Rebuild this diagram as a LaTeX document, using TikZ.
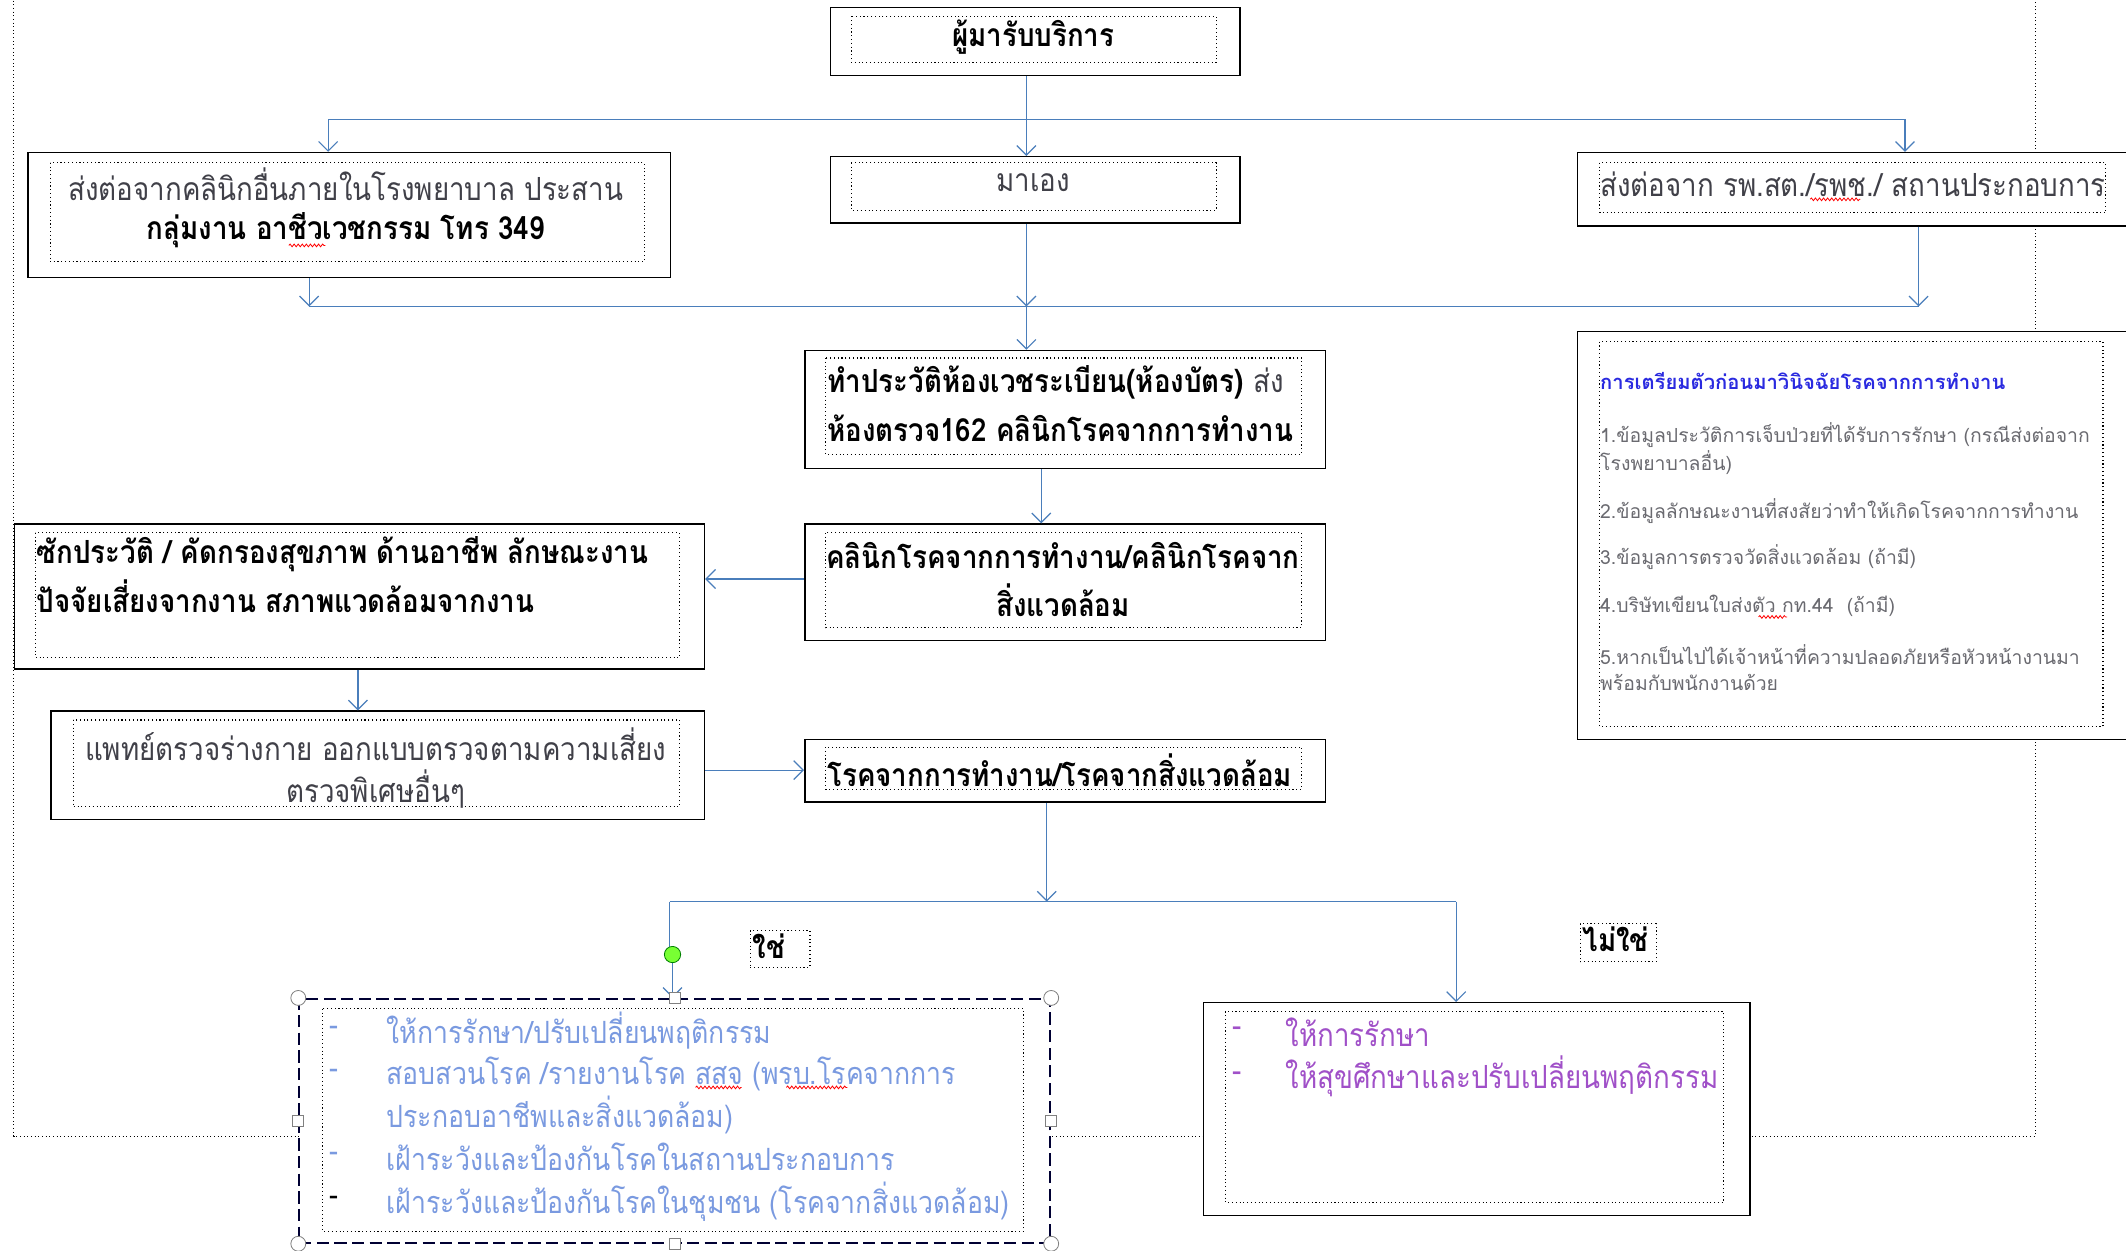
\documentclass[tikz,border=0pt]{standalone}
\usepackage{fontspec}
\newfontfamily\thai[Script=Thai,FakeStretch=0.87]{Loma}
\newfontfamily\thais[Script=Thai]{Loma}
\usetikzlibrary{arrows.meta,calc,decorations.pathmorphing}
\definecolor{connc}{HTML}{4A7EBB}
\definecolor{txtg}{HTML}{404048}
\definecolor{infog}{HTML}{6A6A70}
\definecolor{titleb}{HTML}{2A2AE0}
\definecolor{yesb}{HTML}{7A9AE0}
\definecolor{nop}{HTML}{A050C8}
\tikzset{
  obox/.style={draw=black, line width=1.1pt, fill=white, inner sep=0pt, anchor=north west},
  ibox/.style={draw=black, dotted, line width=0.8pt},
  conn/.style={draw=connc, line width=0.9pt},
  arr/.style={conn, -{Straight Barb[length=7pt,width=14pt,line width=0.9pt]}},
  maintxt/.style={inner sep=0pt, font=\thai\fontsize{23.5}{30}\selectfont},
  yestxt/.style={inner sep=0pt, anchor=west, text=yesb, font=\thai\fontsize{22.6}{30}\selectfont},
  smalltxt/.style={inner sep=0pt, anchor=west, font=\thais\fontsize{14.3}{18}\selectfont, text=infog},
  handlec/.style={draw=gray, fill=white, line width=0.6pt, circle, minimum size=11pt, inner sep=0pt},
  handles/.style={draw=gray, fill=white, line width=0.6pt, rectangle, minimum size=8pt, inner sep=0pt},
  squig/.style={draw=red, line width=0.6pt, decorate, decoration={snake, amplitude=1pt, segment length=3pt}},
}
\begin{document}
\begin{tikzpicture}[x=1pt,y=-1pt]
\useasboundingbox (0,0) rectangle (1568,922);
\clip (0,0) rectangle (1568,922);
% outer dotted frame
\draw[dotted, line width=0.7pt] (10,-5) -- (10,838) -- (1501,838) -- (1501,-5);

% boxes
\node[obox, minimum width=302pt, minimum height=50pt] (A) at (612,5) {};
\draw[ibox] (628,12) rectangle (897,46);
\node[maintxt] (tA) at (762,27) {\bfseries ผู้มารับบริการ};

\node[obox, minimum width=474pt, minimum height=92pt] (B) at (20,112) {};
\draw[ibox] (37,120) rectangle (475,193);
\node[maintxt, text=txtg] (tB1) at (255,136) {ส่งต่อจากคลินิกอื่นภายในโรงพยาบาล ประสาน};
\node[maintxt] (tB2) at (255,170) {\bfseries กลุ่มงาน อาชีวเวชกรรม โทร 349};

\node[obox, minimum width=302pt, minimum height=49pt] (C) at (612,115) {};
\draw[ibox] (628,120) rectangle (897,155);
\node[maintxt, text=txtg] (tC) at (762,135) {มาเอง};

\node[obox, minimum width=420pt, minimum height=54pt] (D) at (1163,112) {};
\draw[ibox] (1180,120) rectangle (1553,157);
\node[maintxt, text=txtg, anchor=west] (tD) at (1180,136) {ส่งต่อจาก รพ.สต./รพช./ สถานประกอบการ};

\node[obox, minimum width=384pt, minimum height=87pt] (E) at (593,258) {};
\draw[ibox] (609,264) rectangle (960,335);
\node[maintxt, anchor=west] (tE1) at (610,282) {\bfseries ทำประวัติห้องเวชระเบียน(ห้องบัตร) \mdseries\color{txtg}ส่ง};
\node[maintxt, anchor=west] (tE2) at (610,316) {\bfseries ห้องตรวจ162 คลินิกโรคจากการทำงาน};

\node[obox, minimum width=420pt, minimum height=301pt] (F) at (1163,244) {};
\draw[ibox] (1180,252) rectangle (1551,536);
\node[smalltxt, text=titleb, font=\thais\fontsize{14.9}{18}\selectfont] (tF0) at (1180,281) {\bfseries การเตรียมตัวก่อนมาวินิจฉัยโรคจากการทำงาน};
\node[smalltxt] (tF1) at (1180,321) {1.ข้อมูลประวัติการเจ็บป่วยที่ได้รับการรักษา (กรณีส่งต่อจาก};
\node[smalltxt] (tF1b) at (1180,341) {โรงพยาบาลอื่น)};
\node[smalltxt] (tF2) at (1180,377) {2.ข้อมูลลักษณะงานที่สงสัยว่าทำให้เกิดโรคจากการทำงาน};
\node[smalltxt] (tF3) at (1180,411) {3.ข้อมูลการตรวจวัดสิ่งแวดล้อม (ถ้ามี)};
\node[smalltxt] (tF4) at (1180,447) {4.บริษัทเขียนใบส่งตัว กท.44~~(ถ้ามี)};
\node[smalltxt] (tF5) at (1180,483) {5.หากเป็นไปได้เจ้าหน้าที่ความปลอดภัยหรือหัวหน้างานมา};
\node[smalltxt] (tF5b) at (1180,503) {พร้อมกับพนักงานด้วย};

\node[obox, minimum width=384pt, minimum height=86pt] (G) at (593,386) {};
\draw[ibox] (609,393) rectangle (960,463);
\node[maintxt] (tG1) at (784,410) {\bfseries คลินิกโรคจากการทำงาน/คลินิกโรคจาก};
\node[maintxt] (tG2) at (784,443) {\bfseries สิ่งแวดล้อม};

\node[obox, minimum width=509pt, minimum height=107pt] (H) at (10,386) {};
\draw[ibox] (26,393) rectangle (501,485);
\node[maintxt, anchor=west] (tH1) at (27,409) {\bfseries ซักประวัติ / คัดกรองสุขภาพ ด้านอาชีพ ลักษณะงาน};
\node[maintxt, anchor=west] (tH2) at (27,440) {\bfseries ปัจจัยเสี่ยงจากงาน สภาพแวดล้อมจากงาน};

\node[obox, minimum width=482pt, minimum height=80pt] (I) at (37,524) {};
\draw[ibox] (54,531) rectangle (501,595);
\node[maintxt, text=txtg] (tI1) at (277,549) {แพทย์ตรวจร่างกาย ออกแบบตรวจตามความเสี่ยง};
\node[maintxt, text=txtg] (tI2) at (277,582) {ตรวจพิเศษอื่นๆ};

\node[obox, minimum width=384pt, minimum height=46pt] (J) at (593,545) {};
\draw[ibox] (609,551) rectangle (960,582);
\node[maintxt, anchor=west] (tJ) at (610,568) {\bfseries โรคจากการทำงาน/โรคจากสิ่งแวดล้อม};

% yes box (selected, dashed)
\node[obox, draw=black!80!blue, dashed, dash pattern=on 9pt off 4pt, line width=1.3pt, minimum width=554pt, minimum height=180pt] (K) at (220,736) {};
\draw[ibox] (238,744) rectangle (755,908);
\foreach \yy/\tt [count=\i] in {760/{ให้การรักษา/ปรับเปลี่ยนพฤติกรรม},792/{สอบสวนโรค /รายงานโรค สสจ (พรบ.โรคจากการ},853/{เฝ้าระวังและป้องกันโรคในสถานประกอบการ},886/{เฝ้าระวังและป้องกันโรคในชุมชน (โรคจากสิ่งแวดล้อม)}}{
  \node[yestxt] (tK\i) at (285,\yy) {\tt};
}
\node[yestxt] (tK2b) at (285,822) {ประกอบอาชีพและสิ่งแวดล้อม)};
\foreach \yy/\cc [count=\i] in {760/yesb,792/yesb,853/yesb,886/black}{
  \node[yestxt, text=\cc] (dK\i) at (243,\yy) {-};
}

% no box
\node[obox, minimum width=403pt, minimum height=157pt] (L) at (887,739) {};
\draw[ibox] (904,746) rectangle (1271,887);
\node[maintxt, anchor=west, text=nop] (tL1) at (948,761) {ให้การรักษา};
\node[maintxt, anchor=west, text=nop] (tL2) at (948,794) {ให้สุขศึกษาและปรับเปลี่ยนพฤติกรรม};
\node[maintxt, anchor=west, text=nop] (dL1) at (909,761) {-};
\node[maintxt, anchor=west, text=nop] (dL2) at (909,794) {-};

% labels
\node[draw=black, dotted, line width=0.8pt, minimum width=44pt, minimum height=27pt, anchor=north west, inner sep=0pt] (Y) at (553,686) {};
\node[maintxt, anchor=west] (tY) at (555,698) {\bfseries ใช่};
\node[draw=black, dotted, line width=0.8pt, minimum width=56pt, minimum height=28pt, anchor=north west, inner sep=0pt] (N) at (1165,681) {};
\node[maintxt, anchor=west] (tN) at (1167,693) {\bfseries ไม่ใช่};

% spell-check marks
\draw[squig] (213,181) -- (240,181);
\draw[squig] (1335,147) -- (1372,147);
\draw[squig] (1297,455) -- (1318,455);
\draw[squig] (513,802) -- (547,802);
\draw[squig] (580,802) -- (625,802);

% connectors
\coordinate (xm) at (757,0);
\coordinate (xl) at (242,0);
\coordinate (xr) at (1405,0);
\coordinate (yt) at (0,88);
\coordinate (xl2) at (228,0);
\coordinate (xr2) at (1415,0);
\coordinate (yt2) at (0,226);
\coordinate (xe) at (768,0);
\coordinate (yg) at (0,427);
\coordinate (xh) at (264,0);
\coordinate (yi) at (0,568);
\coordinate (xj) at (772,0);
\coordinate (yb) at (0,665);
\coordinate (xk) at (494,0);
\coordinate (xk2) at (496,0);
\coordinate (xn) at (1074,0);

\draw[arr] (A.south -| xm) -- (C.north -| xm);
\draw[conn] (xl |- yt) -- (xr |- yt);
\draw[arr] (xl |- yt) -- (B.north -| xl);
\draw[arr] (xr |- yt) -- (D.north -| xr);
\draw[arr] (B.south -| xl2) -- (xl2 |- yt2);
\draw[arr] (D.south -| xr2) -- (xr2 |- yt2);
\draw[arr] (C.south -| xm) -- (xm |- yt2);
\draw[conn] (xl2 |- yt2) -- (xr2 |- yt2);
\draw[arr] (xm |- yt2) -- (E.north -| xm);
\draw[arr] (E.south -| xe) -- (G.north -| xe);
\draw[arr] (G.west |- yg) -- (H.east |- yg);
\draw[arr] (H.south -| xh) -- (I.north -| xh);
\draw[arr] (I.east |- yi) -- (J.west |- yi);
\draw[arr] (J.south -| xj) -- (xj |- yb);
\draw[conn] (xk |- yb) -- (xn |- yb);
\draw[conn] (xk |- yb) -- (xk |- 0,704);
\draw[arr] (xk2 |- 0,704) -- (K.north -| xk2);
\draw[arr] (xn |- yb) -- (L.north -| xn);

% selection handles
\node[circle, fill=green!55!lime!80!white, draw=green!50!black, line width=0.6pt, minimum size=12pt, inner sep=0pt] (rot) at (496,704) {};
\foreach \a [count=\i] in {north west,north east,south west,south east}{
  \node[handlec] (hc\i) at (K.\a) {};
}
\foreach \a [count=\i] in {north,south,west,east}{
  \node[handles] (hs\i) at (K.\a) {};
}
\end{tikzpicture}
\end{document}
